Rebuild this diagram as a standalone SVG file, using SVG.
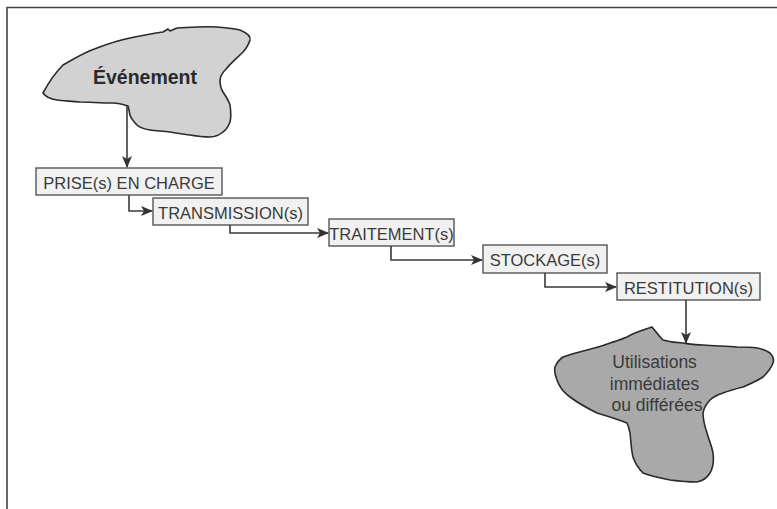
<svg xmlns="http://www.w3.org/2000/svg" width="777" height="509" viewBox="0 0 777 509">
  <style>
    .frame { fill: none; stroke: #444; stroke-width: 1.6; }
    .box { fill: #f1f1f1; stroke: #555; stroke-width: 1.4; }
    .lbl { font-family: "Liberation Sans", Arial, sans-serif; font-size: 16.5px; fill: #3a3a3a; }
    .blob { stroke: #2a2a2a; stroke-width: 1.6; stroke-linejoin: round; }
    .wire { fill: none; stroke: #3a3a3a; stroke-width: 1.6; }
  </style>
  <defs>
    <marker id="arr" viewBox="0 0 12 10" refX="11" refY="5" markerWidth="12" markerHeight="10" markerUnits="userSpaceOnUse" orient="auto">
      <path d="M0,0 L12,5 L0,10 L3,5 Z" fill="#333"/>
    </marker>
  </defs>
  <rect width="777" height="509" fill="#fff"/>
  <path class="frame" d="M7,509 V7.5 H777"/>

  <g id="evenement">
    <path class="blob" fill="#d2d2d2" d="M43,93 C50,80 58,70 63,65 C75,58 85,52 97,48 C110,43 120,40 130,38 C145,35 155,33 163,32 L168,29 L170,31 L177,28 C195,27 205,26 217,27 C228,28 236,29 240,30 C247,33 251,36 250,40 C248,46 246,49 243,52 C236,59 230,64 227,68 C222,73 220,76 220,80 C220,86 221,89 223,92 C227,98 229,101 230,105 C231,112 231,118 230,122 C228,127 226,130 223,132 C218,136 214,137 210,137 C202,137 196,136 190,135 C182,134 176,133 170,132 C162,131 156,131 150,130 C144,129 140,128 137,125 C133,121 131,118 130,115 C129,111 129,109 128,106 C122,104 118,103 113,103 C100,103 90,102 80,102 C70,101 62,101 57,100 C50,99 45,96 43,93 Z"/>
    <text x="145" y="84" text-anchor="middle" style="font-family:'Liberation Sans',Arial,sans-serif;font-size:19.5px;font-weight:bold;fill:#2a2a2a">Événement</text>
  </g>

  <g id="prise">
    <rect class="box" x="36" y="168" width="186" height="27"/>
    <text class="lbl" x="129" y="189" text-anchor="middle">PRISE(s) EN CHARGE</text>
  </g>
  <g id="transmission">
    <rect class="box" x="153" y="198" width="155" height="27"/>
    <text class="lbl" x="230.5" y="218.5" text-anchor="middle">TRANSMISSION(s)</text>
  </g>
  <g id="traitement">
    <rect class="box" x="329" y="219" width="125" height="27"/>
    <text class="lbl" x="391.5" y="239.5" text-anchor="middle">TRAITEMENT(s)</text>
  </g>
  <g id="stockage">
    <rect class="box" x="483" y="245" width="124" height="28"/>
    <text class="lbl" x="545" y="265.5" text-anchor="middle">STOCKAGE(s)</text>
  </g>
  <g id="restitution">
    <rect class="box" x="617" y="273" width="143" height="27"/>
    <text class="lbl" x="688.5" y="293.5" text-anchor="middle">RESTITUTION(s)</text>
  </g>

  <g id="utilisations">
    <path class="blob" fill="#a9a9a9" d="M652,327 C656,332 660,337 663,340 C670,342 676,343 683,343 C690,344 696,345 703,345 C715,346 727,346 737,347 C745,347 751,347 757,348 C763,349 767,351 770,353 C773,356 774,360 773,363 C771,369 767,373 763,377 C757,381 750,384 743,387 C735,389 728,391 723,393 C717,395 713,397 710,400 C706,404 704,408 703,413 C703,420 705,427 707,433 C709,440 712,447 713,453 C714,461 713,468 710,473 C707,478 702,481 697,482 C688,482 678,481 670,480 C660,478 650,476 643,473 C638,468 635,463 633,457 C631,449 631,441 630,433 C629,428 628,425 627,423 C617,419 607,416 597,413 C587,408 578,403 570,397 C563,392 559,386 557,380 C555,375 554,371 555,367 C557,362 560,359 563,357 C571,354 579,352 587,350 C595,348 603,346 610,343 C617,341 622,339 627,337 C632,334 638,332 643,330 C646,329 649,328 652,327 Z"/>
    <text text-anchor="middle" style="font-family:'Liberation Sans',Arial,sans-serif;font-size:17.5px;fill:#3a3a3a">
      <tspan x="657" y="368">Utilisations</tspan>
      <tspan x="657" y="390">immédiates</tspan>
      <tspan x="657" y="411">ou différées</tspan>
    </text>
  </g>

  <g id="connectors">
    <path class="wire" d="M127,106 V167" marker-end="url(#arr)"/>
    <path class="wire" d="M129,195 V211 H152" marker-end="url(#arr)"/>
    <path class="wire" d="M230,225 V233 H328" marker-end="url(#arr)"/>
    <path class="wire" d="M391,246 V260 H482" marker-end="url(#arr)"/>
    <path class="wire" d="M545,273 V287 H616" marker-end="url(#arr)"/>
    <path class="wire" d="M686,300 V343" marker-end="url(#arr)"/>
  </g>
</svg>
